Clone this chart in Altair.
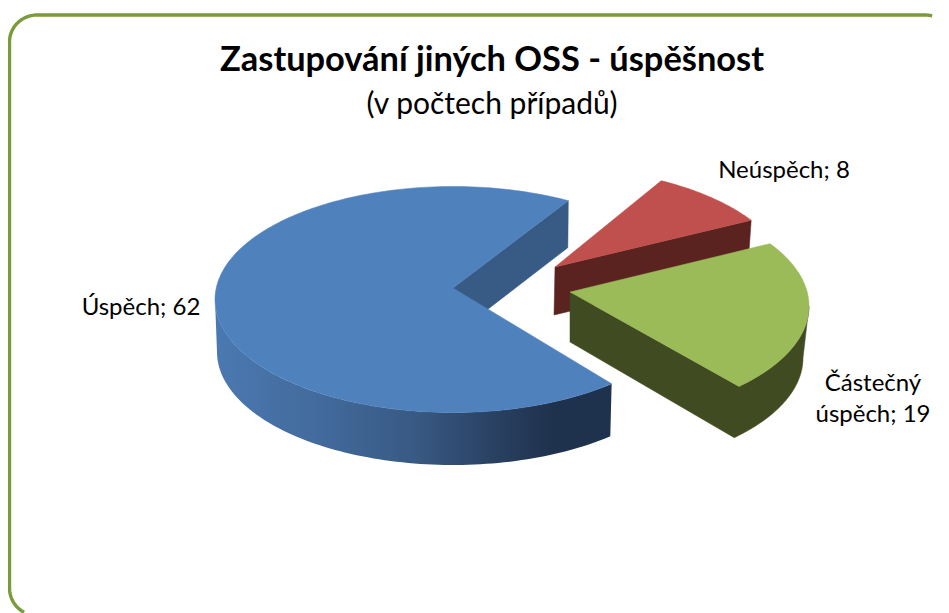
import math
import altair as alt
import pandas as pd

# ---- chart values
categories = ["Úspěch", "Částečný úspěch", "Neúspěch"]
counts = [62, 19, 8]
title_text = "Zastupování jiných OSS - úspěšnost"
subtitle_text = "(v počtech případů)"

total = sum(counts)
sweep = [c / total * 360 for c in counts]

# ---- look of the tilted pie
RX, RY = 235, 113
BRX, BRY = 231, 112
W, H = 933, 605

x_scale = alt.Scale(domain=[8, 941], nice=False, zero=False)
y_scale = alt.Scale(domain=[613, 8], nice=False, zero=False)


def rim(cx, cy, rx, ry, a0, a1, n=90):
    pts = []
    for i in range(n + 1):
        t = math.radians(a0 + (a1 - a0) * i / n)
        pts.append((cx + rx * math.cos(t), cy + ry * math.sin(t)))
    return pts


def poly(pts, fill, stroke=True):
    df = pd.DataFrame({"x": [p[0] for p in pts], "y": [p[1] for p in pts], "o": range(len(pts))})
    kw = {"fill": fill, "interpolate": "linear-closed"}
    if stroke and isinstance(fill, str):
        kw.update(stroke=fill, strokeWidth=0.5)
    else:
        kw.update(strokeOpacity=0)
    return alt.Chart(df).mark_line(**kw).encode(
        x=alt.X("x:Q", scale=x_scale, axis=None),
        y=alt.Y("y:Q", scale=y_scale, axis=None),
        order="o:Q",
    )


def text(t, x, y, size, bold=False):
    df = pd.DataFrame({"x": [x], "y": [y], "t": [t]})
    return alt.Chart(df).mark_text(
        font="Lato", fontSize=size, fontWeight="bold" if bold else "normal",
        color="#000000", align="center", baseline="middle",
    ).encode(
        x=alt.X("x:Q", scale=x_scale, axis=None),
        y=alt.Y("y:Q", scale=y_scale, axis=None),
        text="t:N",
    )


# angles of the slices on the ellipse (tilt stretches each slice a little)
blue_a0 = 48.2
blue_a1 = blue_a0 + sweep[0]
green_half = sweep[1] / 2 * 1.026
green_a0 = 5.95 - green_half
green_a1 = 5.95 + green_half
red_half = sweep[2] / 2 * 0.93
red_a0 = -47.55 - red_half
red_a1 = -47.55 + red_half

layers = []

# frame
frame = []
frame += rim(37, 588, 27.5, 27.5, 118, 180, 20)
frame += rim(37, 42, 27.5, 27, 180, 270, 30)
frame += rim(925, 42, 27.5, 27, 270, 285, 6)
fdf = pd.DataFrame({"x": [p[0] for p in frame], "y": [p[1] for p in frame], "o": range(len(frame))})
layers.append(
    alt.Chart(fdf).mark_line(color="#7A9A3C", strokeWidth=3.4).encode(
        x=alt.X("x:Q", scale=x_scale, axis=None),
        y=alt.Y("y:Q", scale=y_scale, axis=None),
        order="o:Q",
    )
)

# blue slice
blue_grad = alt.Gradient(
    gradient="linear", x1=0, x2=1, y1=0, y2=0,
    stops=[
        alt.GradientStop(color="#4A79B1", offset=0),
        alt.GradientStop(color="#436B9D", offset=0.25),
        alt.GradientStop(color="#385A84", offset=0.5),
        alt.GradientStop(color="#283F60", offset=0.72),
        alt.GradientStop(color="#1F324D", offset=0.85),
        alt.GradientStop(color="#1F324D", offset=1),
    ],
)
b_top = (453, 299.5)
b_bot = (453, 352)
B_RX_TOP, B_RX_BOT = 238, 236
blue_apex = (453, 288)
blue_apex_b = (453, 336)
inner_end_t = rim(*b_top, B_RX_TOP, RY, blue_a1, blue_a1, 1)[0]
inner_end_b = (inner_end_t[0] - 0.5, inner_end_t[1] + 47)
layers.append(poly([blue_apex, inner_end_t, inner_end_b, blue_apex_b], "#375B85"))
layers.append(poly(
    rim(*b_top, B_RX_TOP, RY, blue_a0, 180) + rim(*b_bot, B_RX_BOT, RY, 180, blue_a0),
    blue_grad, stroke=False,
))
layers.append(poly([blue_apex] + rim(*b_top, B_RX_TOP, RY, blue_a0, blue_a1, 200), "#4F81BD"))

# red slice
r_top = (553, 281)
r_bot = (553, 329)
red_apex = (555, 267)
red_apex_b = (554, 315)
re_t = rim(*r_top, RX, RY, red_a1, red_a1, 1)[0]
re_b = rim(*r_bot, BRX, BRY, red_a1, red_a1, 1)[0]
layers.append(poly([red_apex, re_t, re_b, red_apex_b], "#5A2320"))
layers.append(poly([red_apex] + rim(*r_top, RX, RY, red_a0, red_a1, 40), "#C0504D"))

# green slice
g_top = (574, 306)
g_bot = (572, 358)
green_apex = (570, 292)
green_apex_b = (570, 342)
layers.append(poly(
    [green_apex, green_apex_b]
    + rim(*g_bot, BRX, BRY, green_a1, 0, 60)
    + rim(*g_top, RX, RY, 0, green_a1, 60),
    "#404B22",
))
layers.append(poly([green_apex] + rim(*g_top, RX, RY, green_a0, green_a1, 60), "#9BBB59"))

# texts
layers.append(text(title_text, 492, 61, 34.4, True))
layers.append(text(subtitle_text, 492, 104.5, 30))
layers.append(text(f"{categories[0]}; {counts[0]}", 141, 308, 24))
layers.append(text(f"{categories[2]}; {counts[2]}", 784, 171, 24))
parts = categories[1].split(" ")
layers.append(text(parts[0], 873, 384, 24))
layers.append(text(f"{parts[1]}; {counts[1]}", 873, 415, 24))

chart = alt.layer(*layers).properties(
    width=W, height=H, padding=0,
    autosize=alt.AutoSizeParams(type="none"),
    background="#FFFFFF",
).configure_view(stroke=None)

chart.save("out.html", embed_options={"renderer": "svg", "actions": False})
